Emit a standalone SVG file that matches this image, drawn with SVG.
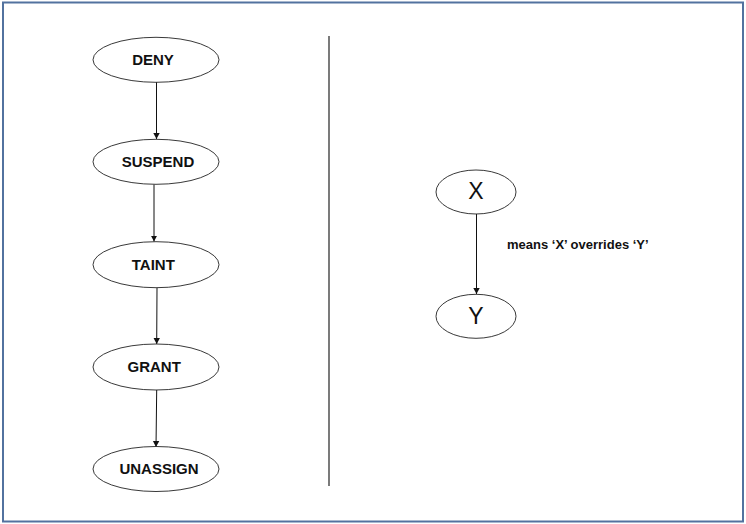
<svg xmlns="http://www.w3.org/2000/svg" width="746" height="524" viewBox="0 0 746 524">
<style>
.n{fill:#fff;stroke:#222;stroke-width:0.9}
.t{font-family:"Liberation Sans",Arial,sans-serif;font-weight:bold;font-size:15px;fill:#111;text-anchor:middle}
.b{font-family:"Liberation Sans",Arial,sans-serif;font-size:23px;fill:#111;text-anchor:middle}
.c{stroke:#111;stroke-width:1;fill:none;marker-end:url(#ah)}
</style>
<defs>
<marker id="ah" markerWidth="6" markerHeight="8" refX="6" refY="4" orient="auto" markerUnits="userSpaceOnUse" viewBox="0 0 6 8">
<path d="M0,0.8 L6,4 L0,7.2 Z" fill="#111"/>
</marker>
</defs>
<rect x="0" y="0" width="746" height="524" fill="#fff"/>
<rect x="3" y="2.5" width="740" height="519" fill="none" stroke="#52729f" stroke-width="2"/>
<line x1="329" y1="36" x2="329" y2="486" stroke="#333" stroke-width="1.3"/>
<g id="connectors">
<line class="c" x1="156.5" y1="82" x2="156.5" y2="139"/>
<line class="c" x1="154" y1="184.5" x2="154" y2="241.5"/>
<line class="c" x1="157" y1="288" x2="156.7" y2="344"/>
<line class="c" x1="156.7" y1="390" x2="156" y2="447"/>
<line class="c" x1="476.5" y1="214" x2="476.5" y2="294"/>
</g>
<g id="deny"><ellipse class="n" cx="156" cy="59.8" rx="63" ry="22.5"/><text class="t" x="153" y="65">DENY</text></g>
<g id="suspend"><ellipse class="n" cx="156" cy="161.8" rx="63" ry="22.5"/><text class="t" x="158" y="167">SUSPEND</text></g>
<g id="taint"><ellipse class="n" cx="156" cy="264.7" rx="63" ry="23"/><text class="t" x="153.3" y="270">TAINT</text></g>
<g id="grant"><ellipse class="n" cx="156" cy="367" rx="63" ry="23"/><text class="t" x="154.2" y="372.3">GRANT</text></g>
<g id="unassign"><ellipse class="n" cx="156" cy="469" rx="63" ry="22.5"/><text class="t" x="159" y="474.3">UNASSIGN</text></g>
<g id="x"><ellipse class="n" cx="476" cy="192" rx="40" ry="22"/><text class="b" x="476" y="199">X</text></g>
<g id="y"><ellipse class="n" cx="476" cy="316.3" rx="40" ry="22"/><text class="b" x="476" y="324">Y</text></g>
<text x="507" y="249" style="font-family:'Liberation Sans',Arial,sans-serif;font-weight:bold;font-size:13px;fill:#111">means ‘X’ overrides ‘Y’</text>
</svg>
